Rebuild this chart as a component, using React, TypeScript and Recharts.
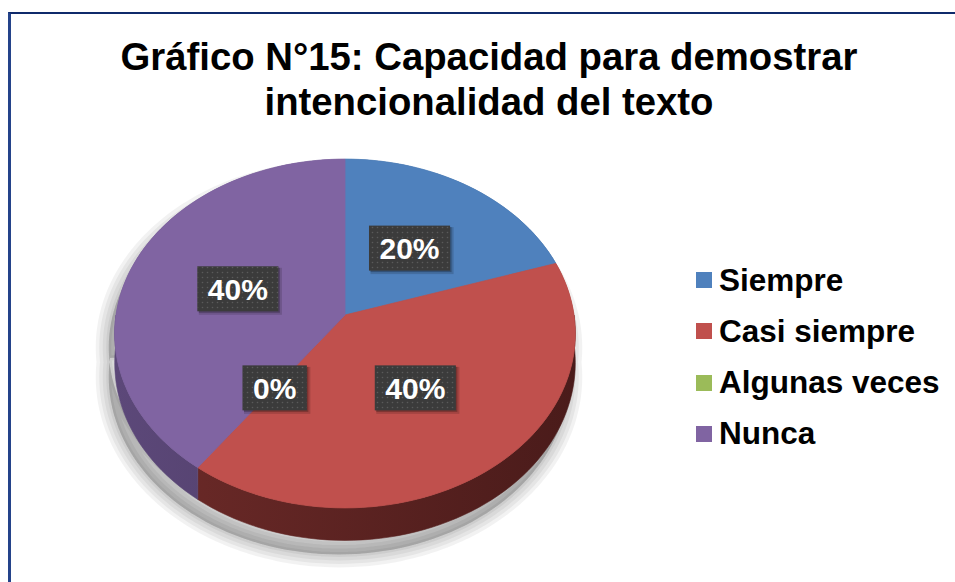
import React from "react";
import { PieChart, Pie, Cell, Legend } from "recharts";

const CATEGORIES = ["Siempre", "Casi siempre", "Algunas veces", "Nunca"];
const VALUES = [20, 40, 0, 40];

const COLORS = ["#4f81bd", "#c0504d", "#9bbb59", "#8064a2"];
const SIDE_LIGHT = ["#31507a", "#6e2b29", "#5e7236", "#5c4879"];
const SIDE_DARK = ["#233b5a", "#4a1b1a", "#455528", "#443459"];

const FONT = "'Liberation Sans', Arial, Helvetica, sans-serif";

// 3D look: tilt of the disc, perspective strength and side depth (relative to radius)
const TILT = 0.753;
const PERSP = 0.106;
const DEPTH = 0.127;
// soft shadow built from stacked translucent strokes
const SHADOW_STEPS = [26, 19, 12, 5];

const data = CATEGORIES.map((name, i) => ({ name, value: VALUES[i] }));

function project(cx: number, cy: number, r: number, deg: number, f = 1) {
	const a = (deg * Math.PI) / 180;
	const u = f * Math.cos(a);
	const v = f * Math.sin(a);
	const d = 1 + PERSP * v;
	return [cx + (r * u) / d, cy - (r * TILT * v) / d, d];
}

function arcPoints(cx: number, cy: number, r: number, from: number, to: number, drop = 0) {
	const n = Math.max(2, Math.ceil(Math.abs(to - from) / 2));
	const pts: number[][] = [];
	for (let k = 0; k <= n; k++) {
		const deg = from + ((to - from) * k) / n;
		const [x, y, d] = project(cx, cy, r, deg);
		pts.push([x, y + (drop * r) / d]);
	}
	return pts;
}

function indexOf(props: any) {
	const name = props.name ?? props.payload?.name;
	return Math.max(0, CATEGORIES.indexOf(name));
}

function topPathOf(props: any) {
	const { cx, cy, outerRadius, startAngle, endAngle } = props;
	const pts = arcPoints(cx, cy, outerRadius, startAngle, endAngle);
	return `M${cx},${cy} ` + pts.map((p) => `L${p[0]},${p[1]}`).join(" ") + " Z";
}

function sidePathOf(props: any) {
	const { cx, cy, outerRadius, startAngle, endAngle } = props;
	const lo = Math.max(Math.min(startAngle, endAngle), -180);
	const hi = Math.min(Math.max(startAngle, endAngle), 0);
	if (hi <= lo) return "";
	const a = arcPoints(cx, cy, outerRadius, lo, hi);
	const b = arcPoints(cx, cy, outerRadius, hi, lo, DEPTH);
	return "M" + [...a, ...b].map((p) => `${p[0]},${p[1]}`).join(" L") + " Z";
}

function isEmpty(props: any) {
	return Math.abs(props.endAngle - props.startAngle) <= 0;
}

// layer 1: one soft grey shadow under the whole disc, drawn with the first slice
function ShadowShape(props: any) {
	if (indexOf(props) !== 0) return <g />;
	const { cx, cy, outerRadius } = props;
	const top = arcPoints(cx, cy, outerRadius, 0, 360);
	const low = arcPoints(cx, cy, outerRadius, 0, -180, DEPTH);
	const d = "M" + [...top, ...low].map((p) => `${p[0]},${p[1]}`).join(" L") + " Z";
	return (
		<g transform="translate(-6,14)">
			{SHADOW_STEPS.map((w) => (
				<path key={w} d={d} fill="#000" fillOpacity={0.05} stroke="#000" strokeOpacity={0.05} strokeWidth={w} strokeLinejoin="round" />
			))}
		</g>
	);
}

// layer 2: visible rim of each slice
function SideShape(props: any) {
	if (isEmpty(props)) return <g />;
	const i = indexOf(props);
	const side = sidePathOf(props);
	return (
		<g>
			<path d={topPathOf(props)} fill={SIDE_LIGHT[i]} />
			{side && <path d={side} fill={`url(#side${i})`} stroke={`url(#side${i})`} strokeWidth={0.6} />}
		</g>
	);
}

// layer 3: top faces
function TopShape(props: any) {
	if (isEmpty(props)) return <g />;
	const i = indexOf(props);
	return <path d={topPathOf(props)} fill={COLORS[i]} stroke={COLORS[i]} strokeWidth={0.8} />;
}

function renderLabel(props: any) {
	const { cx, cy, midAngle, outerRadius, percent } = props;
	const [x, y] = project(cx, cy, outerRadius, midAngle, 0.5);
	const text = `${Math.round(percent * 100)}%`;
	const w = (text.length - 1) * 16.7 + 26.7 + 21;
	const left = x - w / 2;
	const top = y - 22.5;
	return (
		<g>
			<rect x={left + 1.5} y={top + 1.5} width={w + 2} height={47} fill="#000" opacity={0.15} />
			<rect x={left + 1.5} y={top + 1.5} width={w} height={45} fill="#000" opacity={0.25} />
			<rect x={left} y={top} width={w} height={45} fill="#3b3b3b" />
			<rect x={left} y={top} width={w} height={45} fill="url(#dots)" />
			<text x={x} y={y + 11} textAnchor="middle" fill="#ffffff" fontSize={30} fontWeight="bold" fontFamily={FONT}>
				{text}
			</text>
		</g>
	);
}

function LegendContent({ payload }: any) {
	const seen = new Map<string, any>();
	(payload || []).forEach((p: any) => {
		if (!seen.has(p.value)) seen.set(p.value, p);
	});
	const items = CATEGORIES.filter((c) => seen.has(c)).map((c) => seen.get(c));
	return (
		<div style={{ fontFamily: FONT, fontSize: 31.5, fontWeight: "bold", color: "#000" }}>
			{items.map((p: any) => (
				<div key={p.value} style={{ display: "flex", alignItems: "center", height: 51.3, whiteSpace: "nowrap" }}>
					<span style={{ display: "inline-block", width: 16, height: 16, background: p.color, marginRight: 7 }} />
					<span>{p.value}</span>
				</div>
			))}
		</div>
	);
}

const pieCommon = {
	data,
	dataKey: "value",
	nameKey: "name",
	cx: 345,
	cy: 315,
	outerRadius: 229,
	startAngle: 90,
	endAngle: -270,
	labelLine: false,
	stroke: "none",
	isAnimationActive: false,
};

export default function App() {
	return (
		<div style={{ position: "absolute", left: 0, top: 0, width: 955, height: 582, overflow: "hidden", background: "#fff" }}>
			<svg width={0} height={0} style={{ position: "absolute" }}>
				<defs>
					<pattern id="dots" width="5" height="5" patternUnits="userSpaceOnUse">
						<circle cx="2.5" cy="2.5" r="0.8" fill="#5a5a5a" />
					</pattern>
					{COLORS.map((_, i) => (
						<linearGradient key={i} id={`side${i}`} gradientUnits="userSpaceOnUse" x1="115" y1="0" x2="575" y2="0">
							<stop offset="0" stopColor={SIDE_LIGHT[i]} />
							<stop offset="1" stopColor={SIDE_DARK[i]} />
						</linearGradient>
					))}
				</defs>
			</svg>
			<div
				style={{
					position: "absolute",
					left: 8,
					top: 12,
					right: -4,
					bottom: -4,
					borderTop: "2px solid #0f2a6b",
					borderLeft: "3px solid #24438a",
				}}
			/>
			<div
				style={{
					position: "absolute",
					left: 23,
					top: 34,
					width: 932,
					textAlign: "center",
					fontFamily: FONT,
					fontSize: 38.3,
					fontWeight: "bold",
					lineHeight: "45px",
					color: "#000",
				}}
			>
				Gráfico N°15: Capacidad para demostrar
				<br />
				intencionalidad del texto
			</div>
			<div style={{ position: "absolute", left: 0, top: 0 }}>
				<PieChart width={955} height={582} margin={{ top: 0, right: 0, bottom: 0, left: 0 }}>
					<Pie
						{...pieCommon}
						legendType="none"
						label={false}
						shape={ShadowShape}
						inactiveShape={ShadowShape}
						activeShape={ShadowShape}
					>
						{data.map((d, i) => (
							<Cell key={d.name} fill={COLORS[i]} />
						))}
					</Pie>
					<Pie
						{...pieCommon}
						legendType="none"
						label={false}
						shape={SideShape}
						inactiveShape={SideShape}
						activeShape={SideShape}
					>
						{data.map((d, i) => (
							<Cell key={d.name} fill={COLORS[i]} />
						))}
					</Pie>
					<Pie
						{...pieCommon}
						legendType="square"
						label={renderLabel}
						shape={TopShape}
						inactiveShape={TopShape}
						activeShape={TopShape}
					>
						{data.map((d, i) => (
							<Cell key={d.name} fill={COLORS[i]} />
						))}
					</Pie>
					<Legend
						content={<LegendContent />}
						layout="vertical"
						align="right"
						verticalAlign="middle"
						wrapperStyle={{ left: 696, top: 254.4, width: 259, right: "auto", bottom: "auto" }}
					/>
				</PieChart>
			</div>
		</div>
	);
}
